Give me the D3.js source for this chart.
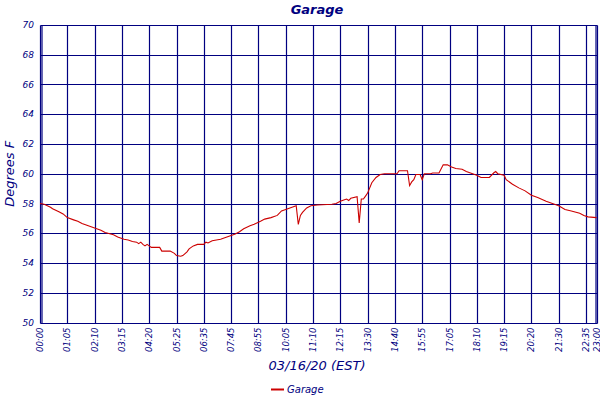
<!DOCTYPE html>
<html>
<head>
<meta charset="utf-8">
<script src="https://cdn.jsdelivr.net/npm/d3@7"></script>
<style>
  body { margin: 0; background: #fff; }
  text { font-family: "DejaVu Sans", sans-serif; font-style: italic; fill: #000080; }
</style>
</head>
<body>
<div id="chart"></div>
<script>
const width = 600;
const height = 400;

// 5-minute samples, x axis is the sample number
const sampleIdx = [0, 2, 5, 6, 9, 11, 13, 16, 18, 20, 23, 27, 29, 31, 35, 37, 40, 42, 44, 46, 47, 48, 49, 50, 51, 52, 53,
  57, 58, 62, 64, 65, 67, 68, 70, 71, 73, 75, 78, 79, 80, 82, 84, 86, 88, 90, 93, 95, 97, 100, 102, 105, 107,
  110, 113, 115, 117, 120, 122, 123, 124, 125, 127, 129, 132, 139, 141, 143, 145, 146, 147, 148, 151, 152, 153, 154, 155, 156, 158, 160,
  162, 164, 170, 171, 175, 176, 177, 178, 179, 181, 182, 183, 186, 187, 190, 192, 194, 196, 198, 201, 203, 206, 208, 210, 214,
  216, 217, 218, 221, 222, 225, 228, 231, 234, 237, 241, 244, 247, 250, 253, 257, 259, 261, 265];
const tempF = [58.0, 57.95, 57.75, 57.65, 57.45, 57.3, 57.05, 56.9, 56.8, 56.65, 56.5, 56.3, 56.2, 56.05, 55.9, 55.75, 55.6, 55.55, 55.45, 55.4, 55.3, 55.4, 55.25, 55.15, 55.25, 55.15, 55.05,
  55.05, 54.8, 54.8, 54.65, 54.5, 54.45, 54.5, 54.75, 54.95, 55.15, 55.25, 55.25, 55.4, 55.35, 55.5, 55.55, 55.6, 55.7, 55.8, 55.95, 56.1, 56.3, 56.5, 56.6, 56.8, 56.95,
  57.05, 57.2, 57.5, 57.6, 57.75, 57.85, 56.6, 57.2, 57.4, 57.7, 57.85, 57.9, 57.95, 58.0, 58.15, 58.25, 58.3, 58.2, 58.35, 58.45, 56.7, 58.3, 58.3, 58.5, 58.7, 59.4, 59.75,
  59.95, 60.0, 60.0, 60.2, 60.2, 59.2, 59.45, 59.6, 59.95, 59.95, 59.6, 60.0, 60.0, 60.05, 60.05, 60.6, 60.6, 60.45, 60.35, 60.3, 60.15, 60.0, 59.9, 59.75, 59.75,
  60.05, 60.15, 60.0, 59.9, 59.6, 59.3, 59.05, 58.85, 58.55, 58.4, 58.15, 58.0, 57.85, 57.6, 57.5, 57.35, 57.2, 57.1, 57.05];

const tickIdx = [0, 13, 26, 39, 52, 65, 78, 91, 104, 117, 130, 143, 156, 169, 182, 195, 208, 221, 234, 247, 260, 265];
const tickLabels = ["00:00", "01:05", "02:10", "03:15", "04:20", "05:25", "06:35", "07:45", "08:55", "10:05", "11:10",
  "12:15", "13:30", "14:40", "15:55", "17:05", "18:10", "19:15", "20:20", "21:30", "22:35", "23:00"];
const yTicks = [50, 52, 54, 56, 58, 60, 62, 64, 66, 68, 70];

const margin = { top: 25, right: 3, bottom: 77, left: 40 };
const navy = "#000080";

const svg = d3.select("#chart")
  .append("svg")
  .attr("width", width)
  .attr("height", height);

const x = d3.scaleLinear()
  .domain([0, 265])
  .range([margin.left, width - margin.right - 0.5]);

const y = d3.scaleLinear()
  .domain([50, 70])
  .range([height - margin.bottom - 0.5, margin.top]);

// snap to pixel centres so every grid line has the same weight
const px = v => Math.round(v) + 0.5;

// grid
const grid = svg.append("g").attr("stroke", navy).attr("stroke-width", 1.2);
grid.selectAll("line.v")
  .data(tickIdx)
  .enter()
  .append("line")
  .attr("x1", d => px(x(d))).attr("x2", d => px(x(d)))
  .attr("y1", px(y(70))).attr("y2", px(y(50)));
grid.selectAll("line.h")
  .data(yTicks)
  .enter()
  .append("line")
  .attr("x1", px(x(0))).attr("x2", px(x(265)))
  .attr("y1", d => px(y(d))).attr("y2", d => px(y(d)));
// doubled frame edges
grid.append("line").attr("x1", px(x(0)) + 1.5).attr("x2", px(x(0)) + 1.5).attr("y1", px(y(70))).attr("y2", px(y(50)));
grid.append("line").attr("x1", px(x(265)) - 1.5).attr("x2", px(x(265)) - 1.5).attr("y1", px(y(70))).attr("y2", px(y(50)));

// y axis labels
svg.append("g")
  .selectAll("text")
  .data(yTicks)
  .enter()
  .append("text")
  .attr("x", 34)
  .attr("y", d => y(d) + 3)
  .attr("text-anchor", "end")
  .attr("font-size", 9)
  .text(d => d);

// x axis labels, rotated
svg.append("g")
  .selectAll("text")
  .data(tickIdx)
  .enter()
  .append("text")
  .attr("transform", d => `translate(${x(d) + 3},${y(50) + 5}) rotate(-90)`)
  .attr("text-anchor", "end")
  .attr("font-size", 8.5)
  .text((d, i) => tickLabels[i]);

// temperature line
const line = d3.line()
  .x((d, i) => x(sampleIdx[i]))
  .y(d => y(d));

svg.append("path")
  .datum(tempF)
  .attr("fill", "none")
  .attr("stroke", "#cc0000")
  .attr("stroke-width", 1.1)
  .attr("d", line);

// titles
svg.append("text")
  .attr("x", 317)
  .attr("y", 14)
  .attr("text-anchor", "middle")
  .attr("font-size", 13)
  .attr("font-weight", "bold")
  .text("Garage");

svg.append("text")
  .attr("transform", `translate(14,${(y(70) + y(50)) / 2}) rotate(-90)`)
  .attr("text-anchor", "middle")
  .attr("font-size", 13)
  .text("Degrees F");

svg.append("text")
  .attr("x", 317)
  .attr("y", 370)
  .attr("text-anchor", "middle")
  .attr("font-size", 13)
  .text("03/16/20 (EST)");

// legend
svg.append("line")
  .attr("x1", 271).attr("x2", 284)
  .attr("y1", 389.5).attr("y2", 389.5)
  .attr("stroke", "#cc0000")
  .attr("stroke-width", 2);
svg.append("text")
  .attr("x", 287)
  .attr("y", 393)
  .attr("font-size", 10)
  .text("Garage");
</script>
</body>
</html>
